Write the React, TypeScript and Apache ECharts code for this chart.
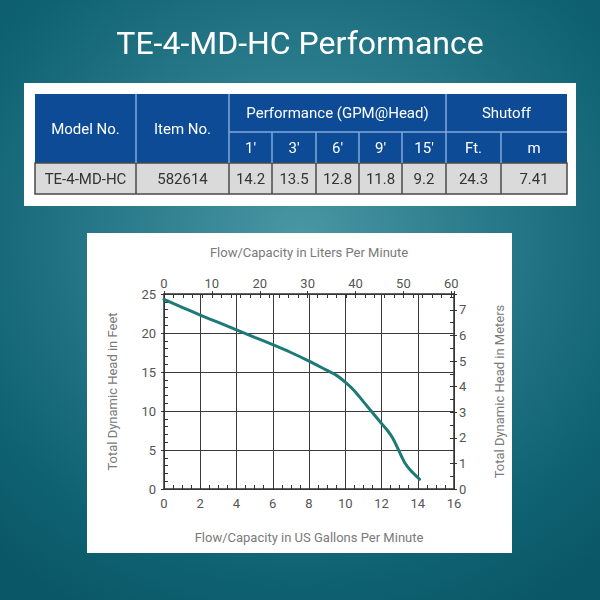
import React, { useEffect, useRef } from "react";
import * as echarts from "echarts";

// ---- data ----
const titleText = "TE-4-MD-HC Performance";
const tableModelHeader = "Model No.";
const tableItemHeader = "Item No.";
const tablePerfHeader = "Performance (GPM@Head)";
const tableShutoffHeader = "Shutoff";
const modelNo = "TE-4-MD-HC";
const itemNo = "582614";
const headLabels = ["1'", "3'", "6'", "9'", "15'"];
const gpmAtHead = ["14.2", "13.5", "12.8", "11.8", "9.2"];
const shutoffLabels = ["Ft.", "m"];
const shutoffValues = ["24.3", "7.41"];

const flowGpm = [0, 1, 2, 3, 4, 5, 6, 7, 8, 9, 9.5, 10, 10.5, 11, 11.5, 12, 12.3, 12.6, 12.9, 13.1, 13.3, 13.6, 14.1];
const headFeet = [24.3, 23.3, 22.3, 21.35, 20.4, 19.45, 18.5, 17.5, 16.4, 15.2, 14.6, 13.7, 12.6, 11.2, 9.8, 8.4, 7.6, 6.6, 5.2, 4.2, 3.3, 2.4, 1.25];

const gpmMax = 16;
const feetMax = 25;
const litersPerGallon = 3.78541;
const metersPerFoot = 0.3048;

const xTitleBottom = "Flow/Capacity in US Gallons Per Minute";
const xTitleTop = "Flow/Capacity in Liters Per Minute";
const yTitleLeft = "Total Dynamic Head in Feet";
const yTitleRight = "Total Dynamic Head in Meters";

const FONT = "Roboto, 'Noto Sans', sans-serif";

function buildTable() {
  const colX = [35, 136, 229, 272, 316, 359, 402, 446, 501, 567];
  const yTop = 94, yMid = 132, yHead = 163, yBot = 194;
  const blue = "#0d4b96";
  const sep = "#7fa9dc";
  const dark = "#4a4a4a";
  const els: any[] = [];
  els.push({ type: "rect", z: 1, shape: { x: 24, y: 83, width: 552, height: 123 }, style: { fill: "#ffffff" } });
  els.push({ type: "rect", z: 2, shape: { x: colX[0], y: yTop, width: colX[9] - colX[0], height: yHead - yTop }, style: { fill: blue } });
  els.push({ type: "rect", z: 2, shape: { x: colX[0], y: yHead, width: colX[9] - colX[0], height: yBot - yHead }, style: { fill: "#dadada", stroke: dark, lineWidth: 1.5 } });
  const line = (x1: number, y1: number, x2: number, y2: number, c: string) =>
    els.push({ type: "line", z: 3, shape: { x1, y1, x2, y2 }, style: { stroke: c, lineWidth: 1.5 } });
  [1, 2, 7].forEach((i) => line(colX[i], yTop, colX[i], yHead, sep));
  [3, 4, 5, 6, 8].forEach((i) => line(colX[i], yMid, colX[i], yHead, sep));
  line(colX[2], yMid, colX[9], yMid, sep);
  for (let i = 1; i < 9; i++) line(colX[i], yHead, colX[i], yBot, dark);
  const text = (t: string, x: number, y: number, fill: string, size: number) =>
    els.push({
      type: "text", z: 4, x, y,
      style: { text: t, fill, fontSize: size, fontFamily: FONT, align: "center", verticalAlign: "middle", textAlign: "center", textVerticalAlign: "middle" },
    });
  const mid = (a: number, b: number) => (a + b) / 2;
  text(tableModelHeader, mid(colX[0], colX[1]), mid(yTop, yHead), "#ffffff", 15);
  text(tableItemHeader, mid(colX[1], colX[2]), mid(yTop, yHead), "#ffffff", 15);
  text(tablePerfHeader, mid(colX[2], colX[7]), mid(yTop, yMid), "#ffffff", 15);
  text(tableShutoffHeader, mid(colX[7], colX[9]), mid(yTop, yMid), "#ffffff", 15);
  headLabels.forEach((h, i) => text(h, mid(colX[2 + i], colX[3 + i]), mid(yMid, yHead), "#ffffff", 15));
  shutoffLabels.forEach((h, i) => text(h, mid(colX[7 + i], colX[8 + i]), mid(yMid, yHead), "#ffffff", 15));
  text(modelNo, mid(colX[0], colX[1]), mid(yHead, yBot), "#333333", 15);
  text(itemNo, mid(colX[1], colX[2]), mid(yHead, yBot), "#333333", 15);
  gpmAtHead.forEach((v, i) => text(v, mid(colX[2 + i], colX[3 + i]), mid(yHead, yBot), "#333333", 15));
  shutoffValues.forEach((v, i) => text(v, mid(colX[7 + i], colX[8 + i]), mid(yHead, yBot), "#333333", 15));
  return els;
}

export default function App() {
  const ref = useRef<HTMLDivElement>(null);
  useEffect(() => {
    document.body.style.margin = "0";
    if (!ref.current) return;
    const chart = echarts.init(ref.current, undefined, { renderer: "svg" });
    const axisLine = () => ({ show: true, onZero: false, lineStyle: { color: "#333", width: 1.5 } });
    const tick = (inside: boolean, length: number) => ({ show: true, inside, length, lineStyle: { color: "#333", width: 1 } });
    const labelStyle = () => ({ color: "#555", fontSize: 13, fontFamily: FONT });
    const nameStyle = () => ({ color: "#7a7a7a", fontSize: 13, fontFamily: FONT });
    const gridLine = () => ({ show: true, lineStyle: { color: "#3a3a3a", width: 1 } });
    // helper axes that only carry the fine tick marks
    const fineAxis = (position: string, max: number, interval: number) => ({
      type: "value", position, min: 0, max, interval,
      axisLine: { show: false, onZero: false },
      axisTick: tick(true, 4),
      axisLabel: { show: false },
      splitLine: { show: false },
    });
    const option: any = {
      animation: false,
      backgroundColor: "transparent",
      title: {
        text: titleText, left: "center", top: 22,
        textStyle: { color: "#ffffff", fontSize: 32, fontWeight: "normal", fontFamily: FONT },
      },
      graphic: buildTable(),
      grid: { left: 164, right: 146, top: 294, bottom: 111 },
      xAxis: [
        {
          type: "value", position: "bottom", min: 0, max: gpmMax, interval: 2,
          name: xTitleBottom, nameLocation: "middle", nameGap: 42, nameTextStyle: nameStyle(),
          axisLine: axisLine(), axisTick: tick(true, 5),
          axisLabel: { ...labelStyle(), margin: 8 },
          splitLine: gridLine(),
        },
        {
          type: "value", position: "top", min: 0, max: gpmMax * litersPerGallon, interval: 10,
          name: xTitleTop, nameLocation: "middle", nameGap: 35, nameTextStyle: nameStyle(),
          axisLine: axisLine(), axisTick: tick(false, 3),
          axisLabel: { ...labelStyle(), margin: 4, formatter: (v: number) => (Math.abs(v % 10) < 1e-6 ? String(v) : "") },
          splitLine: { show: false },
        },
        fineAxis("bottom", gpmMax, 0.5),
        fineAxis("top", gpmMax * litersPerGallon, 2),
      ],
      yAxis: [
        {
          type: "value", position: "left", min: 0, max: feetMax, interval: 5,
          name: yTitleLeft, nameLocation: "middle", nameGap: 45, nameTextStyle: nameStyle(),
          axisLine: axisLine(), axisTick: tick(false, 3),
          axisLabel: { ...labelStyle(), margin: 8 },
          splitLine: gridLine(),
        },
        {
          type: "value", position: "right", min: 0, max: feetMax * metersPerFoot, interval: 1,
          name: yTitleRight, nameLocation: "middle", nameGap: 39, nameTextStyle: nameStyle(),
          axisLine: axisLine(), axisTick: tick(false, 3),
          axisLabel: { ...labelStyle(), margin: 5, formatter: (v: number) => (Math.abs(v - Math.round(v)) < 1e-6 ? String(v) : "") },
          splitLine: { show: false },
        },
        fineAxis("left", feetMax, 1),
        fineAxis("right", feetMax * metersPerFoot, 0.5),
      ],
      series: [
        {
          type: "line", xAxisIndex: 0, yAxisIndex: 0, smooth: 0.3, showSymbol: false,
          data: flowGpm.map((g, i) => [g, headFeet[i]]),
          lineStyle: { color: "#1d7a78", width: 3, cap: "round" },
          z: 12,
        },
      ],
    };
    chart.setOption(option);
    return () => chart.dispose();
  }, []);
  return (
    <div
      style={{
        position: "fixed", left: 0, top: 0, width: 600, height: 600,
        background: "radial-gradient(ellipse 75% 70% at 50% 40%, #4a97a5 0%, #2a7b8b 40%, #0f6272 80%, #0a5867 100%)",
      }}
    >
      <div style={{ position: "absolute", left: 87, top: 233, width: 425, height: 320, background: "#ffffff" }} />
      <div ref={ref} style={{ position: "absolute", left: 0, top: 0, width: 600, height: 600 }} />
    </div>
  );
}
